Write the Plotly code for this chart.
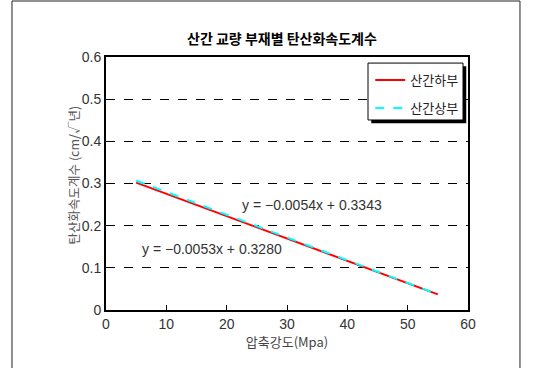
import plotly.graph_objects as go

x_vals = [5, 55]
lower_y = [0.302, 0.037]   # 산간하부
upper_y = [0.307, 0.037]   # 산간상부
series_names = ["산간하부", "산간상부"]
eq_texts = ["y = −0.0054x + 0.3343", "y = −0.0053x + 0.3280"]
eq_pos_x = [34.1, 17.6]
eq_pos_y = [0.249, 0.1447]

FONT = "Liberation Sans, Noto Sans CJK KR, sans-serif"
KFONT = "Noto Sans CJK KR, sans-serif"

fig = go.Figure()
fig.add_trace(go.Scatter(x=x_vals, y=lower_y, mode="lines", name=series_names[0],
                         legendgroup="a", line=dict(color="#ff0000", width=2)))
fig.add_trace(go.Scatter(x=x_vals, y=upper_y, mode="lines", name=series_names[1],
                         legendgroup="b", line=dict(color="#00ffff", width=2, dash="dash")))

for t, ex, ey in zip(eq_texts, eq_pos_x, eq_pos_y):
    fig.add_annotation(x=ex, y=ey, text=t, showarrow=False,
                       font=dict(family=FONT, size=14, color="#333333"))

# y-axis title
fig.add_annotation(xref="paper", yref="paper", x=-0.1215, y=0.534,
                   text="탄산화속도계수 (cm/√년)", textangle=-90, showarrow=False,
                   font=dict(family=KFONT, size=12.5, color="#555555"))

# outer frame
fig.add_shape(type="rect", xref="paper", yref="paper",
              x0=-0.2597, x1=1.1436, y0=-0.25, y1=1.2213,
              line=dict(color="#222222", width=1), layer="below")
# legend shadow
fig.add_shape(type="rect", xref="paper", yref="paper",
              x0=0.7238 + 0.009, x1=0.9862 + 0.009, y0=0.751 - 0.013, y1=0.976 - 0.013,
              fillcolor="#000000", line=dict(width=0), layer="above")
fig.add_shape(type="rect", xref="paper", yref="paper",
              x0=0.7238, x1=0.9862, y0=0.751, y1=0.976,
              fillcolor="#ffffff", line=dict(color="#000000", width=1), layer="above")

fig.update_layout(
    width=534, height=368,
    margin=dict(l=106, r=66, t=57, b=58),
    paper_bgcolor="white", plot_bgcolor="white",
    title=dict(text="<b>산간 교량 부재별 탄산화속도계수</b>", x=0.528, xanchor="center",
               y=0.894, yanchor="middle", font=dict(family=KFONT, size=14, color="#000000")),
    showlegend=True,
    legend=dict(x=0.73, y=0.968, xanchor="left", yanchor="top",
                bgcolor="rgba(0,0,0,0)", borderwidth=0,
                font=dict(family=KFONT, size=13, color="#222222"),
                tracegroupgap=8, itemwidth=30),
    xaxis=dict(range=[0, 60], dtick=10, showgrid=False, zeroline=False,
               showline=True, linecolor="#000000", linewidth=2, mirror=True,
               ticks="inside", ticklen=5, tickcolor="#000000",
               tickfont=dict(family=FONT, size=14, color="#333333"),
               title=dict(text="압축강도(Mpa)", font=dict(family=KFONT, size=13, color="#444444"),
                          standoff=4)),
    yaxis=dict(range=[0, 0.6], dtick=0.1, tickformat=".1~f", showgrid=True,
               gridcolor="#000000", griddash="dash", gridwidth=1, zeroline=False,
               showline=True, linecolor="#000000", linewidth=2, mirror=True,
               ticks="", tickfont=dict(family=FONT, size=14, color="#333333")),
)
fig.write_html("out.html")
